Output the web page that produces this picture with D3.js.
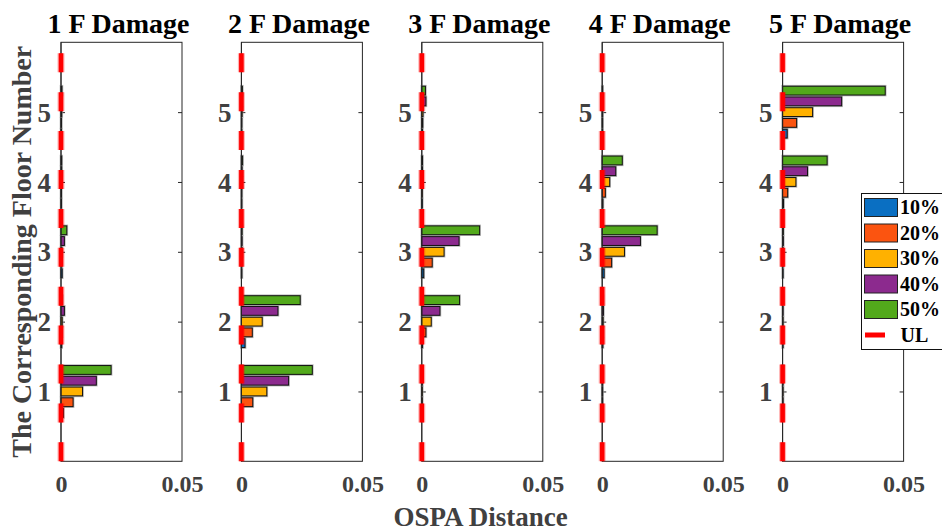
<!DOCTYPE html>
<html>
<head>
<meta charset="utf-8">
<script src="https://cdn.jsdelivr.net/npm/d3@7"></script>
<style>
  html, body { margin: 0; padding: 0; background: #fff; }
  svg { display: block; }
  text { font-family: "Liberation Serif", "Times New Roman", serif; font-weight: bold; }
</style>
</head>
<body>
<svg id="chart" width="942" height="532"></svg>
<script>
// Floors on the vertical axis and damage levels (one bar series each)
const floors = [1, 2, 3, 4, 5];
const levels = ["10%", "20%", "30%", "40%", "50%"];
const panelTitles = ["1 F Damage", "2 F Damage", "3 F Damage", "4 F Damage", "5 F Damage"];

// OSPA distance per damage level (rows) and floor 1..5 (columns)
const ospa1F = [
  [0.0010, 0.0003, 0.0005, 0.0002, 0.0002],
  [0.0050, 0.0004, 0.0003, 0.0002, 0.0002],
  [0.0089, 0.0005, 0.0004, 0.0002, 0.0003],
  [0.0146, 0.0014, 0.0014, 0.0003, 0.0003],
  [0.0207, 0.0005, 0.0024, 0.0003, 0.0004]
];
const ospa2F = [
  [0.0003, 0.0015, 0.0002, 0.0002, 0.0002],
  [0.0047, 0.0045, 0.0002, 0.0002, 0.0002],
  [0.0105, 0.0086, 0.0003, 0.0003, 0.0003],
  [0.0195, 0.0151, 0.0003, 0.0003, 0.0003],
  [0.0293, 0.0243, 0.0003, 0.0005, 0.0004]
];
const ospa3F = [
  [0.0002, 0.0003, 0.0008, 0.0002, 0.0003],
  [0.0002, 0.0017, 0.0043, 0.0002, 0.0004],
  [0.0002, 0.0039, 0.0092, 0.0002, 0.0005],
  [0.0002, 0.0075, 0.0154, 0.0003, 0.0017],
  [0.0002, 0.0156, 0.0239, 0.0003, 0.0015]
];
const ospa4F = [
  [0.0002, 0.0003, 0.0008, 0.0003, 0.0002],
  [0.0002, 0.0003, 0.0039, 0.0013, 0.0002],
  [0.0002, 0.0004, 0.0092, 0.0031, 0.0002],
  [0.0002, 0.0005, 0.0158, 0.0056, 0.0002],
  [0.0002, 0.0003, 0.0227, 0.0083, 0.0002]
];
const ospa5F = [
  [0.0002, 0.0002, 0.0002, 0.0004, 0.0019],
  [0.0002, 0.0002, 0.0002, 0.0021, 0.0058],
  [0.0002, 0.0002, 0.0002, 0.0055, 0.0124],
  [0.0002, 0.0002, 0.0003, 0.0103, 0.0244],
  [0.0002, 0.0002, 0.0003, 0.0184, 0.0424]
];
const panelData = [ospa1F, ospa2F, ospa3F, ospa4F, ospa5F];

// Upper-limit (UL) threshold drawn as a dashed vertical line
const ulValue = 0;

const xTickValues = [0, 0.05];
const yTickValues = [1, 2, 3, 4, 5];
const levelColors = ["#0A6FC2", "#FB5410", "#FFB100", "#8C2A8E", "#52A91B"];

const svg = d3.select("#chart");

const firstLeft = 61, panelStep = 180.4, panelWidth = 121;
const plotTop = 42.3, plotBottom = 461.3;

const y = d3.scaleLinear().domain([0, 6]).range([plotBottom, plotTop]);
// Offset of each level inside a floor group (floor units): 10% lowest, 50% highest
const inner = d3.scaleBand().domain(levels).range([-0.385, 0.385]).paddingInner(0.18).paddingOuter(0.09);
const tickGray = "#404040";

panelData.forEach((data, p) => {
  const left = firstLeft + p * panelStep;
  const x = d3.scaleLinear().domain([0, 0.05]).range([left, left + panelWidth]);
  const g = svg.append("g");

  // Frame
  g.append("rect")
    .attr("x", left).attr("y", plotTop)
    .attr("width", panelWidth).attr("height", plotBottom - plotTop)
    .attr("fill", "none").attr("stroke", "#262626").attr("stroke-width", 1);

  // Y ticks (inward, both sides)
  const yAxisL = d3.axisLeft(y).tickValues(yTickValues).tickSize(-4).tickFormat(d3.format("d")).tickPadding(10);
  const gl = g.append("g").attr("transform", `translate(${left},0)`).call(yAxisL);
  gl.select(".domain").remove();
  gl.selectAll(".tick line").attr("stroke", "#262626");
  gl.selectAll(".tick text")
    .attr("fill", tickGray).style("font-size", "27px")
    .style("font-family", "'Liberation Serif', serif").style("font-weight", "bold")
    .attr("dy", "0.34em");

  const yAxisR = d3.axisRight(y).tickValues(yTickValues).tickSize(-4).tickFormat("");
  const gr = g.append("g").attr("transform", `translate(${left + panelWidth},0)`).call(yAxisR);
  gr.select(".domain").remove();
  gr.selectAll(".tick line").attr("stroke", "#262626");

  // X tick labels
  const xAxis = d3.axisBottom(x).tickValues(xTickValues).tickSize(0).tickPadding(14)
    .tickFormat(d => d === 0 ? "0" : d3.format(".2f")(d));
  const gx = g.append("g").attr("transform", `translate(0,${plotBottom})`).call(xAxis);
  gx.select(".domain").remove();
  gx.selectAll(".tick text")
    .attr("fill", tickGray).style("font-size", "24px")
    .style("font-family", "'Liberation Serif', serif").style("font-weight", "bold")
    .attr("dy", "0.71em");

  // Bars
  const bars = [];
  data.forEach((row, li) => {
    row.forEach((v, fi) => bars.push({ level: levels[li], li, floor: floors[fi], value: v }));
  });
  const bh = Math.abs(y(inner.bandwidth()) - y(0));
  const barY = d => y(d.floor + inner(d.level) + inner.bandwidth());

  g.append("g").selectAll("rect").data(bars).join("rect")
    .attr("x", x(0)).attr("y", barY)
    .attr("width", d => x(d.value) - x(0)).attr("height", bh)
    .attr("fill", "none").attr("stroke", "#9a9a9a").attr("stroke-opacity", 0.7).attr("stroke-width", 2.6);
  g.append("g").selectAll("rect").data(bars).join("rect")
    .attr("x", x(0)).attr("y", barY)
    .attr("width", d => x(d.value) - x(0)).attr("height", bh)
    .attr("fill", d => levelColors[d.li]).attr("stroke", "#111").attr("stroke-width", 1);

  // Left axis line over bars
  g.append("line").attr("x1", left).attr("x2", left).attr("y1", plotTop).attr("y2", plotBottom)
    .attr("stroke", "#262626").attr("stroke-width", 1);

  // UL dashed line
  g.append("line")
    .attr("x1", x(ulValue)).attr("x2", x(ulValue)).attr("y1", y(0)).attr("y2", y(6))
    .attr("stroke", "#ff0000").attr("stroke-opacity", 0.3).attr("stroke-width", 7)
    .attr("stroke-dasharray", "19 19.9");
  g.append("line")
    .attr("x1", x(ulValue)).attr("x2", x(ulValue)).attr("y1", y(0)).attr("y2", y(6))
    .attr("stroke", "#ff0000").attr("stroke-width", 4.6)
    .attr("stroke-dasharray", "19 19.9");

  // Title
  g.append("text")
    .attr("x", left + panelWidth / 2 - 3).attr("y", 33)
    .attr("text-anchor", "middle").attr("fill", "#000")
    .style("font-size", "28px")
    .text(panelTitles[p]);
});

// Axis labels
svg.append("text")
  .attr("x", 480.5).attr("y", 525.5)
  .attr("text-anchor", "middle").attr("fill", tickGray)
  .style("font-size", "27px")
  .text("OSPA Distance");

svg.append("text")
  .attr("transform", `translate(30.5,${(plotTop + plotBottom) / 2}) rotate(-90)`)
  .attr("text-anchor", "middle").attr("fill", tickGray)
  .style("font-size", "28px")
  .text("The Corresponding Floor Number");

// Legend
const legend = svg.append("g");
legend.append("rect")
  .attr("x", 861.5).attr("y", 193.5).attr("width", 90).attr("height", 156)
  .attr("fill", "#fff").attr("stroke", "#111").attr("stroke-width", 1);

const rowY = d3.scaleLinear().domain([0, 5]).range([207.5, 335]);
levels.forEach((lv, i) => {
  legend.append("rect")
    .attr("x", 864.5).attr("y", rowY(i) - 9).attr("width", 33).attr("height", 18)
    .attr("fill", levelColors[i]).attr("stroke", "#222").attr("stroke-width", 1);
  legend.append("text")
    .attr("x", 900).attr("y", rowY(i)).attr("dy", "0.34em")
    .attr("fill", "#000").style("font-size", "20px")
    .text(lv);
});
legend.append("line")
  .attr("x1", 865).attr("x2", 885).attr("y1", rowY(5)).attr("y2", rowY(5))
  .attr("stroke", "#ff0000").attr("stroke-width", 5);
legend.append("text")
  .attr("x", 900.5).attr("y", rowY(5)).attr("dy", "0.34em")
  .attr("fill", "#000").style("font-size", "20px")
  .text("UL");
</script>
</body>
</html>
